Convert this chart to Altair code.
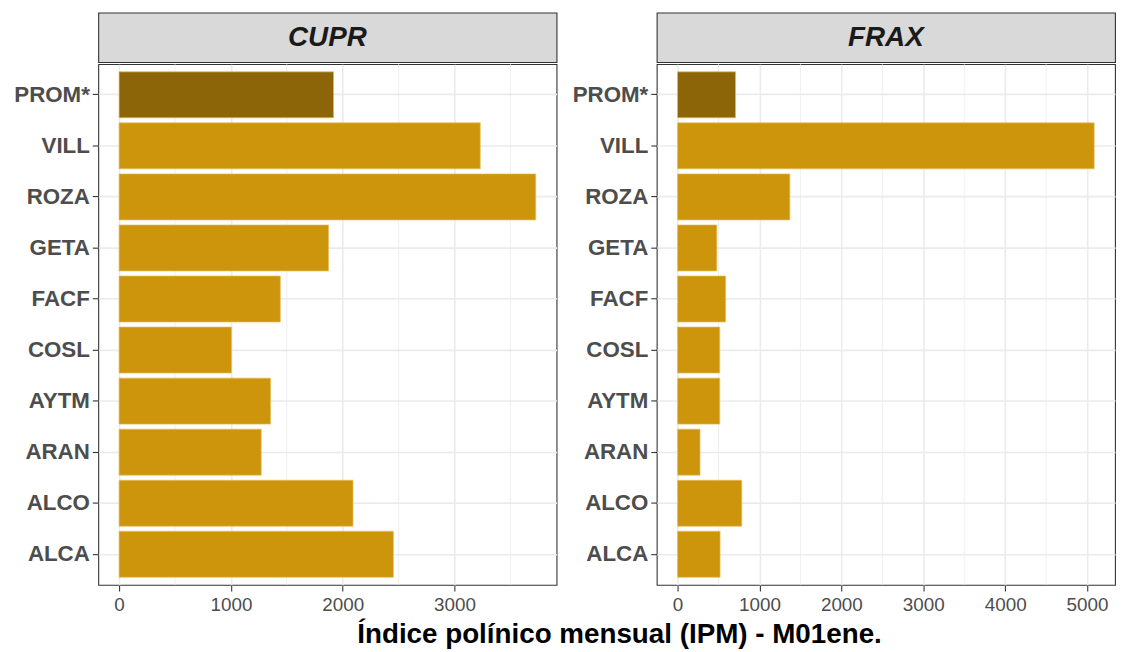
import altair as alt
import pandas as pd

# ---- data ----
stations = ["PROM*", "VILL", "ROZA", "GETA", "FACF", "COSL", "AYTM", "ARAN", "ALCO", "ALCA"]
cupr_ipm = [1918, 3230, 3726, 1873, 1442, 1005, 1354, 1271, 2092, 2453]
frax_ipm = [708, 5087, 1371, 479, 587, 515, 515, 274, 784, 519]
panel_names = ["CUPR", "FRAX"]
x_title = "Índice polínico mensual (IPM) - M01ene."

FONT = "Liberation Sans"
COL_PROM = "#8B6508"
COL_ST = "#CD950C"
PANEL_W = 462
PANEL_H = 525
STRIP_H = 50
YAXIS_W = 90


def make_panel(name, values):
    df = pd.DataFrame({
        "station": stations,
        "ipm": values,
        "tipo": ["prom" if s == "PROM*" else "est" for s in stations],
    })
    vmax = max(values)
    dom = [-0.05 * vmax, 1.05 * vmax]
    major = [v for v in range(0, int(dom[1]) + 1, 1000)]
    minor = [v + 500 for v in major if v + 500 < dom[1]]
    xscale = alt.Scale(domain=dom, nice=False, zero=False)

    grid_minor = alt.Chart(pd.DataFrame({"v": minor})).mark_rule(
        color="#EBEBEB", strokeWidth=0.8
    ).encode(x=alt.X("v:Q", scale=xscale))

    bars = alt.Chart(df).mark_bar(stroke="#E3BC5C", strokeWidth=0.7).encode(
        x=alt.X(
            "ipm:Q",
            scale=xscale,
            axis=alt.Axis(
                values=major, title=None, domain=False, grid=True,
                gridColor="#EBEBEB", gridWidth=1.6,
                tickSize=6, tickColor="#333333", tickWidth=1.1,
                labelFont=FONT, labelFontSize=19, labelColor="#4D4D4D",
                labelPadding=5, labelFlush=False, format="d",
            ),
        ),
        y=alt.Y(
            "station:N",
            sort=stations,
            scale=alt.Scale(paddingInner=0.1, paddingOuter=0.15),
            axis=alt.Axis(
                title=None, domain=False, grid=True,
                gridColor="#EBEBEB", gridWidth=1.6,
                tickSize=6, tickColor="#333333", tickWidth=1.1,
                labelFont=FONT, labelFontSize=22.5, labelFontWeight="bold",
                labelColor="#4D4D4D", labelPadding=3,
                minExtent=YAXIS_W, maxExtent=YAXIS_W,
            ),
        ),
        color=alt.Color(
            "tipo:N",
            scale=alt.Scale(domain=["prom", "est"], range=[COL_PROM, COL_ST]),
            legend=None,
        ),
    )

    body = alt.layer(grid_minor, bars).properties(
        width=PANEL_W, height=PANEL_H,
        view=alt.ViewBackground(fill="white", stroke="#333333", strokeWidth=1.1),
    )

    strip = alt.Chart(pd.DataFrame({"t": [name]})).mark_text(
        font=FONT, fontSize=28, fontWeight="bold", fontStyle="italic",
        color="#1A1A1A", baseline="middle", align="center",
    ).encode(
        text="t:N",
        x=alt.value(PANEL_W / 2),
        y=alt.value(STRIP_H / 2 + 1),
    ).properties(
        width=PANEL_W, height=STRIP_H,
        view=alt.ViewBackground(fill="#D9D9D9", stroke="#333333", strokeWidth=1.1),
    )

    return alt.vconcat(strip, body, spacing=0)


left = make_panel(panel_names[0], cupr_ipm)
right = make_panel(panel_names[1], frax_ipm)

chart = alt.hconcat(left, right, spacing=9).resolve_scale(
    x="independent", y="independent", color="shared"
).properties(
    title=alt.Title(
        x_title, orient="bottom", anchor="middle", font=FONT, fontSize=28,
        fontWeight="bold", color="#000000", offset=6, dx=58,
    ),
    padding={"left": 0, "top": 1, "right": 0, "bottom": 0},
    background="white",
).configure_view(stroke="#333333")

chart.save("out.html", embed_options={"renderer": "svg", "actions": False})
